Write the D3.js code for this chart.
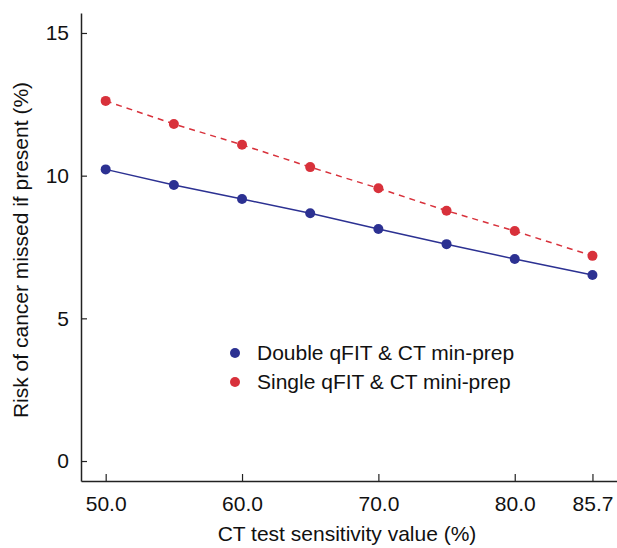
<!DOCTYPE html>
<html>
<head>
<meta charset="utf-8">
<script src="https://cdn.jsdelivr.net/npm/d3@7"></script>
<style>
  body { margin: 0; background: #fff; }
  text { font-family: "Liberation Sans", Arial, sans-serif; }
</style>
</head>
<body>
<div id="chart"></div>
<script>
// data
const sensitivity = [50, 55, 60, 65, 70, 75, 80, 85.7];
const doubleQfit = [10.22, 9.67, 9.18, 8.68, 8.13, 7.60, 7.08, 6.52];
const singleQfit = [12.62, 11.81, 11.08, 10.30, 9.56, 8.77, 8.06, 7.19];
const xTicks = [50, 60, 70, 80, 85.7];
const yTicks = [0, 5, 10, 15];
const seriesNames = ["Double qFIT & CT min-prep", "Single qFIT & CT mini-prep"];

const width = 617, height = 548;
const svg = d3.select("#chart").append("svg")
  .attr("width", width)
  .attr("height", height);

const x = d3.scaleLinear().domain([48.19, 87.5]).range([81, 617]);
const y = d3.scaleLinear().domain([-0.7, 15.7]).range([481, 13]);

const blue = "#2c3192", red = "#d8313b", axisCol = "#222";
const fs = "21px";

// axes
const xAxis = svg.append("g")
  .attr("transform", "translate(0,481)")
  .call(d3.axisBottom(x).tickValues(xTicks).tickFormat(d3.format(".1f")).tickSize(-7).tickSizeOuter(0).tickPadding(15));
const yAxis = svg.append("g")
  .attr("transform", "translate(81,0)")
  .call(d3.axisLeft(y).tickValues(yTicks).tickSize(-6).tickSizeOuter(0).tickPadding(12));

[xAxis, yAxis].forEach(a => {
  a.select(".domain").attr("stroke", axisCol).attr("stroke-width", 1.5);
  a.selectAll(".tick line").attr("stroke", axisCol).attr("stroke-width", 1.2);
  a.selectAll(".tick text").attr("fill", "#111").style("font-size", fs)
    .style("font-family", "'Liberation Sans', Arial, sans-serif");
});

// axis titles
svg.append("text")
  .attr("x", 347).attr("y", 541)
  .attr("text-anchor", "middle")
  .style("font-size", fs).attr("fill", "#111")
  .text("CT test sensitivity value (%)");
svg.append("text")
  .attr("transform", "translate(28,250) rotate(-90)")
  .attr("text-anchor", "middle")
  .style("font-size", fs).attr("fill", "#111")
  .text("Risk of cancer missed if present (%)");

// lines and dots
const series = [
  { values: doubleQfit, color: blue, dash: null },
  { values: singleQfit, color: red, dash: "6,5" }
];
const line = d3.line().x((d, i) => x(sensitivity[i])).y(d => y(d));

series.forEach(s => {
  svg.append("path")
    .datum(s.values)
    .attr("d", line)
    .attr("fill", "none")
    .attr("stroke", s.color)
    .attr("stroke-width", 1.5)
    .attr("stroke-dasharray", s.dash);
  svg.append("g")
    .selectAll("circle")
    .data(s.values)
    .enter()
    .append("circle")
    .attr("cx", (d, i) => x(sensitivity[i]))
    .attr("cy", d => y(d))
    .attr("r", 5)
    .attr("fill", s.color);
});

// legend
const legend = svg.append("g");
seriesNames.forEach((name, i) => {
  const ly = 353 + i * 29;
  legend.append("circle")
    .attr("cx", 235).attr("cy", ly).attr("r", 5)
    .attr("fill", series[i].color);
  legend.append("text")
    .attr("x", 257).attr("y", ly + 7)
    .style("font-size", fs).attr("fill", "#111")
    .text(name);
});
</script>
</body>
</html>
